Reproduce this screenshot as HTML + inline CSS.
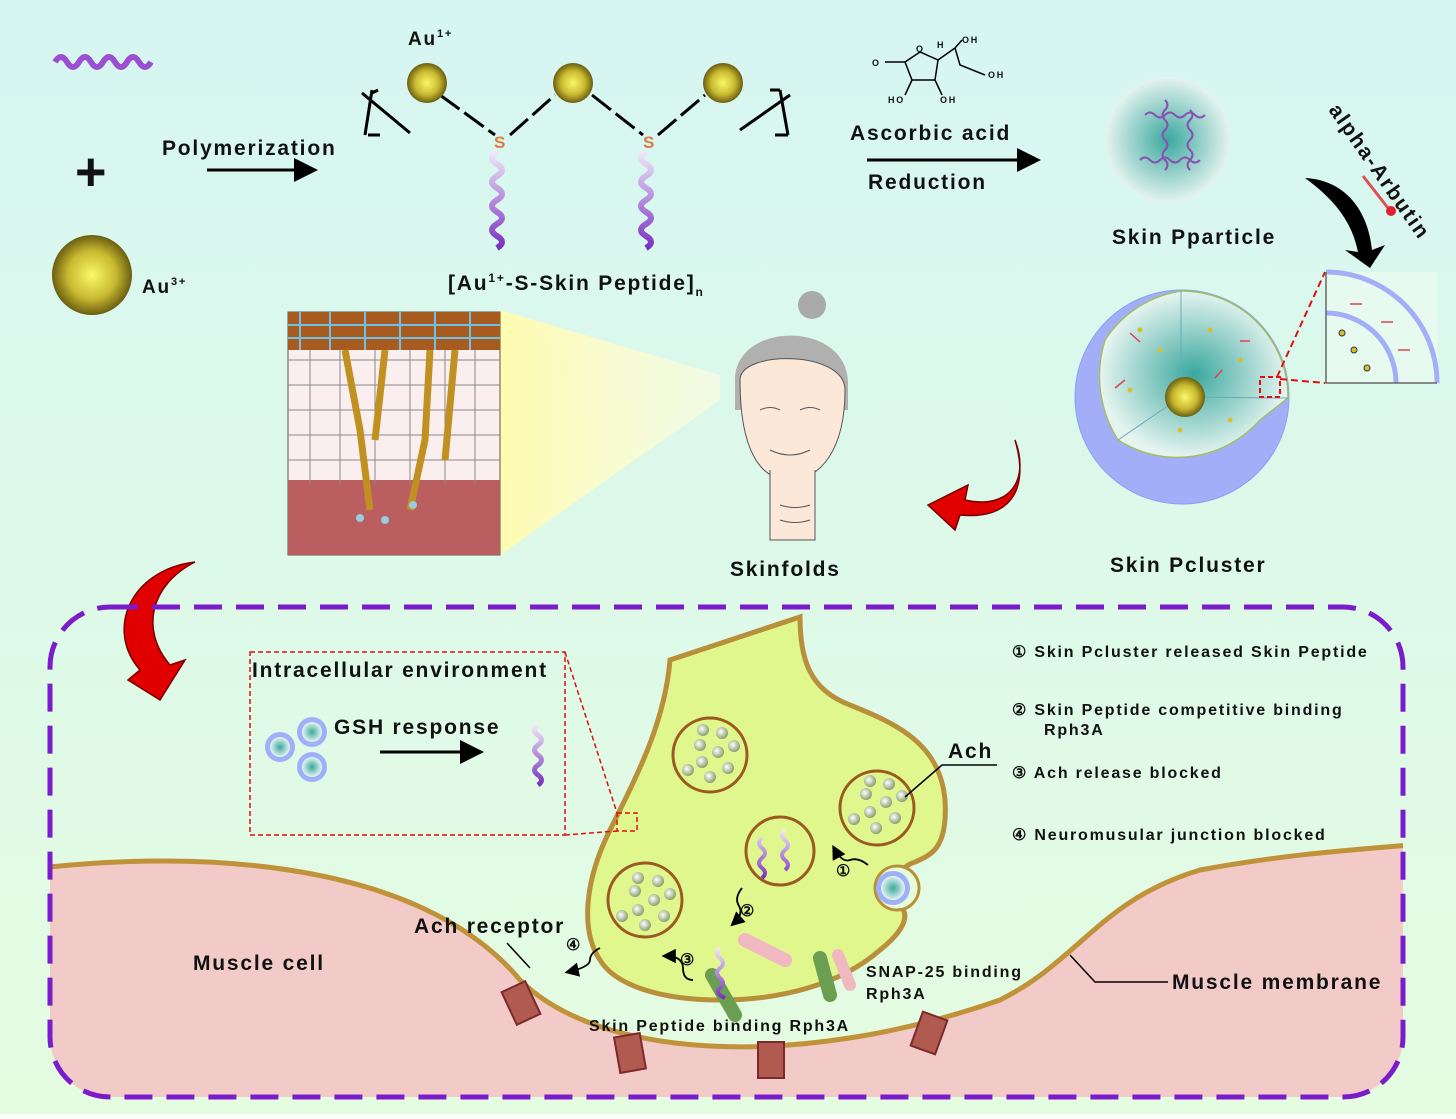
<!DOCTYPE html>
<html><head><meta charset="utf-8"><style>
html,body{margin:0;padding:0}
body{width:1456px;height:1114px;overflow:hidden}
svg text{font-family:"Liberation Sans",Arial,sans-serif;font-weight:bold;fill:#111;letter-spacing:1.8px}
</style></head><body>
<svg width="1456" height="1114" viewBox="0 0 1456 1114" xmlns="http://www.w3.org/2000/svg">
<defs>
<linearGradient id="bg" x1="0" y1="0" x2="0" y2="1"><stop offset="0" stop-color="#d6f6f2"/><stop offset="1" stop-color="#e4fce0"/></linearGradient>
<radialGradient id="gold" cx="0.5" cy="0.5" r="0.5"><stop offset="0" stop-color="#fbf86a"/><stop offset="0.6" stop-color="#c8b930"/><stop offset="1" stop-color="#6b5e10"/></radialGradient>
<radialGradient id="teal" cx="0.5" cy="0.5" r="0.5"><stop offset="0" stop-color="#3aa89e"/><stop offset="1" stop-color="#e6f4f0"/></radialGradient>
<radialGradient id="ves" cx="0.4" cy="0.4" r="0.6"><stop offset="0" stop-color="#fff"/><stop offset="1" stop-color="#8aa070"/></radialGradient>
<linearGradient id="pep" x1="0" y1="0" x2="0" y2="1"><stop offset="0" stop-color="#f0e8f8"/><stop offset="1" stop-color="#7a30c0"/></linearGradient>
<linearGradient id="beam" x1="0" y1="0" x2="1" y2="0"><stop offset="0" stop-color="#fffbb0"/><stop offset="1" stop-color="#fffde0" stop-opacity="0.6"/></linearGradient>
<marker id="ah" markerWidth="8" markerHeight="8" refX="6" refY="4" orient="auto"><path d="M0,0 L8,4 L0,8z" fill="#000"/></marker>
</defs>
<rect width="1456" height="1114" fill="url(#bg)"/>

<path d="M55,62 q6,-10 12,0 t12,0 t12,0 t12,0 t12,0 t12,0 t12,0 t12,0" stroke="#9a50d0" stroke-width="6" fill="none"/>
<text x="75" y="190" font-size="54">+</text>
<circle cx="92" cy="275" r="40" fill="url(#gold)"/>
<text x="142" y="293" font-size="19">Au<tspan font-size="11" dy="-8">3+</tspan></text>
<text x="162" y="155" font-size="21">Polymerization</text>
<line x1="207" y1="170" x2="312" y2="170" stroke="#000" stroke-width="3" marker-end="url(#ah)"/>

<text x="408" y="45" font-size="19">Au<tspan font-size="11" dy="-8">1+</tspan></text>
<g stroke="#000" stroke-width="3" fill="none">
<path d="M372,90 L365,135 M362,93 L410,133 M372,93 L378,90 M368,135 L380,135"/>
<path d="M440,95 L495,135 M510,135 L555,95 M592,95 L643,135 M658,135 L705,95" stroke-dasharray="24,6"/>
<path d="M780,90 L788,135 M740,130 L790,95 M780,90 L770,90 M788,135 L775,135"/>
</g>
<circle cx="427" cy="83" r="20" fill="url(#gold)"/>
<circle cx="573" cy="83" r="20" fill="url(#gold)"/>
<circle cx="723" cy="83" r="20" fill="url(#gold)"/>
<text x="494" y="148" font-size="17" style="fill:#e07a40">S</text>
<text x="643" y="148" font-size="17" style="fill:#e07a40">S</text>
<path d="M497,152 q-10,6 0,12 t0,12 t0,12 t0,12 t0,12 t0,12 t0,12 t0,12" stroke="url(#pep)" stroke-width="6" fill="none"/>
<path d="M646,152 q-10,6 0,12 t0,12 t0,12 t0,12 t0,12 t0,12 t0,12 t0,12" stroke="url(#pep)" stroke-width="6" fill="none"/>
<text x="448" y="290" font-size="21">[Au<tspan font-size="12" dy="-8">1+</tspan><tspan dy="8">-S-Skin Peptide]</tspan><tspan font-size="12" dy="6">n</tspan></text>

<g stroke="#000" stroke-width="1.5" fill="none">
<path d="M905,62 L920,52 L938,60 L935,80 L912,80 Z M905,62 L885,62 M938,60 L955,48 L960,65 L985,75 M912,80 L905,95 M935,80 L942,95 M955,48 L962,40"/>
</g>
<g style="letter-spacing:0"><text x="872" y="66" font-size="9">O</text><text x="916" y="52" font-size="9">O</text><text x="937" y="48" font-size="9">H</text>
<text x="962" y="43" font-size="9">OH</text><text x="988" y="78" font-size="9">OH</text><text x="888" y="103" font-size="9">HO</text><text x="940" y="103" font-size="9">OH</text></g>
<text x="850" y="140" font-size="21">Ascorbic acid</text>
<line x1="867" y1="160" x2="1035" y2="160" stroke="#000" stroke-width="3" marker-end="url(#ah)"/>
<text x="868" y="189" font-size="21">Reduction</text>

<circle cx="1168" cy="140" r="63" fill="url(#teal)"/>
<g stroke="#8a50b0" stroke-width="2" fill="none">
<path d="M1145,115 q5,-5 10,0 t10,0 t10,0 t10,0 t10,0 t10,0"/><path d="M1140,160 q5,-5 10,0 t10,0 t10,0 t10,0 t10,0 t10,0"/>
<path d="M1165,100 q5,5 0,10 t0,10 t0,10 t0,10 t0,10 t0,10 t0,10"/><path d="M1190,110 q5,5 0,10 t0,10 t0,10 t0,10 t0,10 t0,10"/>
</g>
<text x="1112" y="244" font-size="21">Skin Pparticle</text>

<path d="M1305,178 C1345,180 1368,210 1372,250 L1385,245 L1370,268 L1345,250 L1358,252 C1352,222 1335,200 1305,178 Z" fill="#000"/>
<text x="0" y="0" font-size="21" transform="translate(1328,110) rotate(55)">alpha-Arbutin</text>
<line x1="1363" y1="176" x2="1388" y2="208" stroke="#e05050" stroke-width="3"/>
<circle cx="1391" cy="211" r="5" fill="#e02030"/>

<circle cx="1182" cy="397" r="107" fill="#a3aef8" stroke="#8aa0f0"/>
<path d="M1181,291 A106,106 0 0 1 1288,398 L1260,420 A110,110 0 0 1 1118,440 A120,120 0 0 1 1105,340 A110,110 0 0 1 1181,291Z" fill="url(#teal)" stroke="#a0c060" stroke-width="1.5"/>
<g stroke="#6ab" stroke-width="1"><line x1="1181" y1="397" x2="1181" y2="291"/><line x1="1181" y1="397" x2="1288" y2="398"/><line x1="1181" y1="397" x2="1118" y2="440"/></g>
<path d="M1165,397 A20,20 0 0 1 1205,397 A20,20 0 0 1 1165,397Z" fill="url(#gold)"/>
<g fill="#d4c030"><circle cx="1140" cy="330" r="2.5"/><circle cx="1160" cy="350" r="2.5"/><circle cx="1210" cy="330" r="2.5"/><circle cx="1240" cy="360" r="2.5"/><circle cx="1230" cy="420" r="2.5"/><circle cx="1180" cy="430" r="2.5"/><circle cx="1130" cy="390" r="2.5"/></g>
<g stroke="#e04050" stroke-width="1.5"><line x1="1130" y1="333" x2="1140" y2="342"/><line x1="1240" y1="341" x2="1250" y2="341"/><line x1="1115" y1="388" x2="1125" y2="380"/><line x1="1215" y1="378" x2="1222" y2="370"/></g>
<rect x="1260" y="377" width="20" height="20" fill="none" stroke="#e01010" stroke-width="2" stroke-dasharray="5,3"/>
<path d="M1277,377 L1325,272 M1280,379 L1325,383" stroke="#e01010" stroke-width="2" stroke-dasharray="7,4"/>
<rect x="1326" y="272" width="112" height="111" fill="#e6faf0"/>
<path d="M1326,272 A111,111 0 0 1 1437,383" stroke="#a3aef8" stroke-width="5" fill="none"/>
<path d="M1326,313 A70,70 0 0 1 1396,383" stroke="#a3aef8" stroke-width="5" fill="none"/>
<path d="M1326,272 L1326,383 L1437,383" stroke="#666" stroke-width="1.5" fill="none"/>
<g stroke="#e04050" stroke-width="1.5"><line x1="1350" y1="304" x2="1362" y2="304"/><line x1="1381" y1="322" x2="1393" y2="322"/><line x1="1398" y1="350" x2="1410" y2="350"/></g>
<g fill="#d4c030" stroke="#333"><circle cx="1342" cy="333" r="3"/><circle cx="1354" cy="350" r="3"/><circle cx="1367" cy="368" r="3"/></g>
<text x="1110" y="572" font-size="21">Skin Pcluster</text>

<path d="M1015,440 C1030,480 1010,510 965,500 L968,485 L928,505 L955,530 L960,515 C1010,520 1030,490 1015,440Z" fill="#e00000" stroke="#700" stroke-width="1.5"/>

<polygon points="500,310 720,375 720,400 500,555" fill="url(#beam)"/>
<rect x="288" y="312" width="212" height="243" fill="#fbeeee" stroke="#555"/>
<rect x="288" y="480" width="212" height="75" fill="#bb5e60"/>
<g stroke="#888" stroke-width="1" fill="none">
<path d="M288,360 h212 M288,385 h212 M288,410 h212 M288,435 h212 M288,460 h212 M310,345 v140 M340,345 v140 M375,345 v140 M410,345 v140 M445,345 v140 M475,345 v140"/>
</g>
<rect x="288" y="312" width="212" height="38" fill="#a85b1e"/>
<g stroke="#6fc0e8" stroke-width="2" fill="none"><path d="M288,325 h212 M288,338 h212 M300,312 v38 M330,312 v38 M365,312 v38 M400,312 v38 M435,312 v38 M470,312 v38"/></g>
<g stroke="#c09020" stroke-width="7" fill="none"><path d="M345,350 L360,430 L370,510 M385,350 L375,440 M430,350 L425,440 L410,510 M455,350 L445,460"/></g>
<circle cx="360" cy="518" r="4" fill="#9cd"/><circle cx="385" cy="520" r="4" fill="#9cd"/><circle cx="413" cy="505" r="4" fill="#9cd"/>

<circle cx="812" cy="305" r="14" fill="#aaa"/>
<path d="M735,380 C735,320 850,320 848,385 L848,410 L735,410Z" fill="#b0b0b0"/>
<path d="M740,380 C740,350 845,350 845,390 C845,450 820,480 790,480 C760,480 740,450 740,380Z" fill="#fce8d8" stroke="#555"/>
<path d="M770,470 L770,540 L815,540 L815,470" fill="#fce8d8" stroke="#555"/>
<g stroke="#555" fill="none"><path d="M760,410 q10,-5 20,0 M800,410 q10,-5 20,0 M770,450 q20,10 40,0 M780,505 q15,5 30,0 M780,520 q15,5 30,0"/></g>
<text x="730" y="576" font-size="21">Skinfolds</text>

<path d="M195,562 C130,570 105,630 140,670 L128,680 L160,700 L185,660 L170,665 C140,630 150,585 195,562Z" fill="#e00000" stroke="#700" stroke-width="1.5"/>

<clipPath id="box"><rect x="50" y="607" width="1353" height="490" rx="60"/></clipPath>
<g clip-path="url(#box)">
<path d="M40,868 C200,850 420,860 520,980 C600,1060 800,1070 1000,1000 C1080,960 1100,900 1200,870 C1280,855 1350,850 1410,845 L1410,1110 L40,1110Z" fill="#f2cbc9"/>
<path d="M40,868 C200,850 420,860 520,980 C600,1060 800,1070 1000,1000 C1080,960 1100,900 1200,870 C1280,855 1350,850 1410,845" fill="none" stroke="#c0923a" stroke-width="5"/>
</g>
<rect x="50" y="607" width="1353" height="490" rx="60" fill="none" stroke="#7a1ccc" stroke-width="5" stroke-dasharray="28,14"/>

<path d="M670,660 L800,617 C800,660 810,690 850,705 C900,725 940,745 945,800 C948,850 930,855 915,862 C895,868 885,895 900,905 C910,915 905,930 880,950 C840,985 780,1000 720,1000 C660,1000 615,985 600,960 C580,930 585,880 610,830 C640,770 665,720 670,660Z" fill="#e0f78e" stroke="#b8903c" stroke-width="5"/>
<circle cx="897" cy="888" r="22" fill="#e4fcd8" stroke="#b8903c" stroke-width="3"/>
<circle cx="893" cy="888" r="17" fill="#9fb0f8"/><circle cx="893" cy="888" r="12" fill="url(#teal)"/>
<g fill="none" stroke="#9a5a20" stroke-width="3">
<circle cx="710" cy="755" r="37"/><circle cx="877" cy="808" r="37"/><circle cx="780" cy="851" r="34"/><circle cx="645" cy="900" r="37"/>
</g>
<g fill="url(#ves)">
<circle cx="703" cy="730" r="6"/><circle cx="722" cy="733" r="6"/><circle cx="700" cy="745" r="6"/><circle cx="718" cy="752" r="6"/><circle cx="734" cy="746" r="6"/><circle cx="702" cy="762" r="6"/><circle cx="688" cy="770" r="6"/><circle cx="728" cy="768" r="6"/><circle cx="710" cy="777" r="6"/>
<circle cx="870" cy="781" r="6"/><circle cx="889" cy="784" r="6"/><circle cx="866" cy="794" r="6"/><circle cx="886" cy="802" r="6"/><circle cx="902" cy="796" r="6"/><circle cx="870" cy="812" r="6"/><circle cx="854" cy="819" r="6"/><circle cx="895" cy="818" r="6"/><circle cx="876" cy="828" r="6"/>
<circle cx="638" cy="878" r="6"/><circle cx="658" cy="881" r="6"/><circle cx="635" cy="891" r="6"/><circle cx="654" cy="900" r="6"/><circle cx="670" cy="894" r="6"/><circle cx="638" cy="910" r="6"/><circle cx="622" cy="916" r="6"/><circle cx="664" cy="916" r="6"/><circle cx="645" cy="925" r="6"/>
</g>
<path d="M762,838 q-6,5 0,10 t0,10 t0,10 t0,10 M785,830 q-6,5 0,10 t0,10 t0,10 t0,10" stroke="url(#pep)" stroke-width="4" fill="none"/>
<path d="M745,940 L785,960" stroke="#f0b8c0" stroke-width="14" stroke-linecap="round"/>
<path d="M712,975 L735,1015" stroke="#6a9e50" stroke-width="14" stroke-linecap="round"/>
<path d="M720,948 q-6,5 0,10 t0,10 t0,10 t0,10 t5,10" stroke="url(#pep)" stroke-width="4" fill="none"/>
<path d="M820,958 L830,995" stroke="#6a9e50" stroke-width="14" stroke-linecap="round"/>
<path d="M838,955 L850,985" stroke="#f0b8c0" stroke-width="12" stroke-linecap="round"/>
<g fill="#b05a50" stroke="#7a2a2a" stroke-width="2">
<rect x="508" y="985" width="26" height="36" transform="rotate(-25 521 1003)"/>
<rect x="617" y="1035" width="26" height="36" transform="rotate(-10 630 1053)"/>
<rect x="758" y="1042" width="26" height="36"/>
<rect x="916" y="1015" width="26" height="36" transform="rotate(20 929 1033)"/>
</g>
<g stroke="#000" stroke-width="1.8" fill="none">
<path d="M868,865 q-10,-8 -18,-5 t-16,-12" marker-end="url(#ah)"/>
<path d="M742,888 q-8,10 -3,18 t-6,18" marker-end="url(#ah)"/>
<path d="M693,980 q-10,0 -10,-12 t-18,-12" marker-end="url(#ah)"/>
<path d="M600,948 q-10,5 -10,12 t-22,12" marker-end="url(#ah)"/>
</g>
<g font-size="16"><text x="836" y="876">①</text><text x="740" y="916">②</text><text x="680" y="965">③</text><text x="566" y="950">④</text></g>

<rect x="250" y="652" width="315" height="183" fill="none" stroke="#e01010" stroke-width="1.5" stroke-dasharray="5,3"/>
<rect x="617" y="813" width="20" height="18" fill="none" stroke="#e01010" stroke-width="1.5" stroke-dasharray="5,3"/>
<path d="M565,652 L617,813 M565,835 L617,831" stroke="#e01010" stroke-width="1.5" stroke-dasharray="5,3"/>
<text x="252" y="677" font-size="21">Intracellular environment</text>
<text x="334" y="734" font-size="21">GSH response</text>
<line x1="380" y1="752" x2="478" y2="752" stroke="#000" stroke-width="3" marker-end="url(#ah)"/>
<g><circle cx="280" cy="747" r="15" fill="#9fb0f8"/><circle cx="280" cy="747" r="10" fill="url(#teal)"/>
<circle cx="312" cy="732" r="15" fill="#9fb0f8"/><circle cx="312" cy="732" r="10" fill="url(#teal)"/>
<circle cx="312" cy="767" r="15" fill="#9fb0f8"/><circle cx="312" cy="767" r="10" fill="url(#teal)"/></g>
<path d="M538,725 q-7,5 0,10 t0,10 t0,10 t0,10 t0,10 t0,10" stroke="url(#pep)" stroke-width="5" fill="none"/>

<text x="948" y="758" font-size="21">Ach</text>
<path d="M997,765 L942,765 L905,797" stroke="#000" stroke-width="1.5" fill="none"/>
<g font-size="16">
<text x="1012" y="657">① Skin Pcluster released  Skin Peptide</text>
<text x="1012" y="715">② Skin Peptide competitive binding</text>
<text x="1044" y="735">Rph3A</text>
<text x="1012" y="778">③ Ach release blocked</text>
<text x="1012" y="840">④ Neuromusular junction blocked</text>
<text x="866" y="977">SNAP-25 binding</text>
<text x="866" y="999">Rph3A</text>
<text x="589" y="1031">Skin Peptide binding Rph3A</text>
</g>
<text x="193" y="970" font-size="21">Muscle cell</text>
<text x="414" y="933" font-size="21">Ach receptor</text>
<path d="M507,943 L530,968" stroke="#000" stroke-width="1.5"/>
<text x="1172" y="989" font-size="21">Muscle membrane</text>
<path d="M1168,982 L1095,982 L1070,955" stroke="#000" stroke-width="1.5" fill="none"/>
</svg>
</body></html>
